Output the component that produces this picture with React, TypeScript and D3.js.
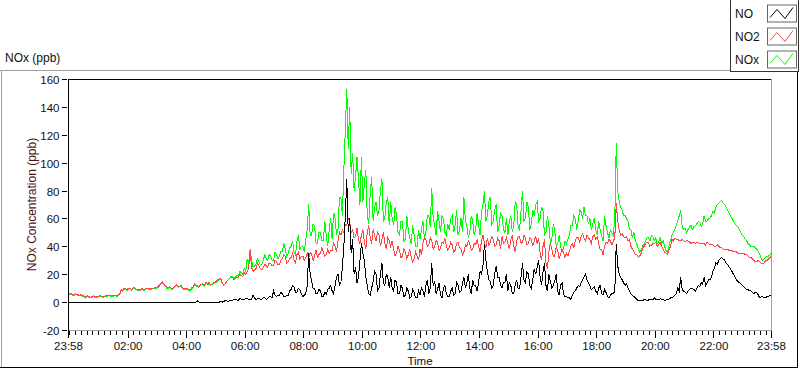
import * as d3 from 'd3';

// NOx monitor, one day from 23:58, one reading every 3 minutes (ppb); 20 readings per row = 1 hour
const stepMinutes = 3;

const noValues = [
  0, 0, 0, 0, 0, 0, 0, 0, 0, 0, 0, 0, 0, 0, 0, 0, 0, 0, 0, 0,
  0, 0, 0, 0, 0, 0, 0, 0, 0, 0, 0, 0, 0, 0, 0, 0, 0, 0, 0, 0,
  0, 0, 0, 0, 0, 0, 0, 0, 0, 0, 0, 0, 0, 0, 0, 0, 0, 0, 0, 0,
  0, 0, 0, 0, 0, 0, 0, 0, 0, 0, 0, 0, 0, 0, 0, 0, 0, 0, 0, 0,
  0, 0, 0, 0, 0, 0, 0, 0, 1, 0, 0, 0, 0, 0, 0, 0, 0, 0, 0, 0,
  0, 0, 0, 0, 0.5, 0, 0.5, 1, 1, 0.5, 1, 1.5, 1, 2, 2, 1.5, 1.5, 2.5, 2, 1.5,
  2, 2.5, 3, 2, 1.5, 2, 5, 3, 2, 2.5, 3, 2, 2, 3, 3, 2, 2.5, 4, 4, 3,
  8, 5, 4, 5, 5, 7, 6, 4, 4, 5, 5, 8, 9, 12, 11, 7, 7, 10, 9, 6,
  4, 5, 6, 12, 35, 20, 15, 10, 10, 6, 6, 9, 8, 4, 4, 7, 6, 9, 10, 12,
  8, 6, 12, 18, 20, 12, 14, 25, 40, 62, 88, 50, 60, 35, 45, 20, 25, 14, 18, 30,
  42, 35, 30, 18, 12, 6, 5, 10, 15, 22, 20, 8, 10, 20, 28, 14, 12, 20, 18, 10,
  18, 10, 8, 16, 14, 6, 6, 12, 10, 4, 5, 10, 8, 3, 4, 9, 7, 3, 3, 8,
  5, 10, 8, 4, 12, 16, 6, 10, 28, 12, 15, 6, 9, 14, 5, 3, 10, 12, 6, 4,
  4, 8, 10, 5, 6, 14, 12, 7, 8, 13, 18, 10, 14, 20, 10, 6, 16, 12, 12, 8,
  14, 22, 20, 26, 42, 30, 22, 16, 15, 10, 12, 20, 26, 18, 18, 12, 10, 14, 14, 20,
  8, 14, 12, 6, 6, 12, 16, 10, 10, 18, 28, 16, 14, 22, 20, 12, 10, 16, 24, 20,
  25, 30, 18, 12, 22, 28, 12, 8, 20, 15, 10, 12, 15, 20, 8, 5, 12, 14, 6, 4,
  4, 3, 3, 2, 5, 7, 8, 10, 12, 11, 14, 16, 18, 20, 16, 14, 12, 9, 10, 11,
  8, 6, 10, 12, 6, 5, 9, 7, 4, 3, 5, 6, 6, 8, 42, 26, 20, 18, 16, 14,
  12, 13, 10, 8, 6, 5, 4, 3, 2, 1, 1, 1.5, 1, 2, 2, 1, 1.5, 2, 2, 1.5,
  3, 2, 2, 1.5, 2.5, 2, 2, 1, 1.5, 2, 2, 3, 3, 4, 5, 6, 10, 8, 18, 9,
  8, 7, 6, 8, 9, 10, 10, 9, 8, 10, 12, 11, 14, 13, 18, 12, 14, 16, 16, 18,
  22, 24, 28, 27, 30, 31, 32, 31, 30, 28, 27, 25, 24, 22, 20, 18, 16, 15, 14, 13,
  12, 11, 10, 9, 9, 8, 8, 7, 6, 7, 7, 5, 3, 4, 4, 3, 3, 4, 4, 5,
  5,
];

const no2Values = [
  6, 6.5, 6, 5.5, 5.5, 6, 5.5, 5, 5, 5.5, 4.5, 4, 4, 4.5, 4, 3.5, 4, 4.5, 4, 4,
  4, 4.5, 4.5, 4, 4, 4.5, 4.5, 5, 5, 4.5, 4.5, 5, 5, 4.5, 5, 6, 9, 8, 10, 9.5,
  9, 10, 10, 9, 10, 10.5, 9.5, 9, 9, 8.5, 10, 9, 9, 10, 10, 9.5, 9.5, 10, 10, 10.5,
  10.5, 11, 12, 13.5, 14.5, 13, 12, 10.5, 10.5, 11, 10, 9.5, 11, 12, 12.5, 11, 11.5, 12, 10, 9.5,
  9.5, 10, 9, 8.5, 10, 11, 13, 12, 12, 11, 12.5, 13, 13, 12, 14.5, 13, 14, 12.5, 13, 14,
  14, 15, 16, 17, 17, 14, 12, 13, 15, 16, 17, 18, 18, 16, 17, 18, 18, 20, 19, 18,
  21, 20, 22, 24, 37, 25, 22, 23, 24, 28, 26, 24, 23, 25, 27, 26, 25, 28, 28, 26,
  26, 30, 29, 27, 27, 30, 31, 34, 33, 28, 29, 31, 32, 35, 30, 28, 34, 36, 31, 33,
  33, 30, 32, 35, 31, 36, 34, 30, 33, 37, 32, 34, 35, 39, 36, 33, 34, 38, 35, 37,
  37, 42, 40, 36, 44, 50, 48, 52, 50, 56, 55, 60, 58, 50, 52, 46, 47, 53, 45, 42,
  48, 52, 43, 38, 50, 55, 46, 42, 52, 48, 44, 50, 48, 40, 45, 50, 42, 38, 46, 44,
  40, 44, 38, 33, 35, 40, 37, 32, 33, 38, 36, 31, 34, 38, 32, 29, 31, 36, 33, 30,
  38, 34, 42, 46, 45, 40, 41, 46, 44, 38, 40, 44, 43, 37, 39, 43, 42, 46, 40, 37,
  39, 43, 41, 36, 37, 42, 43, 39, 38, 34, 36, 41, 40, 44, 42, 37, 38, 42, 41, 45,
  40, 36, 44, 48, 42, 39, 46, 41, 43, 47, 45, 40, 41, 46, 44, 38, 47, 42, 43, 46,
  42, 38, 45, 48, 40, 36, 44, 47, 47, 42, 43, 48, 46, 41, 42, 46, 45, 40, 44, 47,
  42, 46, 35, 30, 40, 45, 28, 24, 36, 42, 38, 33, 33, 40, 37, 31, 34, 38, 36, 32,
  35, 33, 37, 40, 42, 39, 44, 46, 46, 43, 47, 49, 46, 44, 48, 46, 45, 42, 47, 48,
  45, 47, 42, 38, 38, 34, 40, 43, 42, 45, 44, 41, 44, 46, 71, 58, 52, 48, 49, 47,
  46, 47, 44, 45, 40, 38, 36, 34, 34, 32, 33, 35, 38, 40, 42, 43, 43, 40, 41, 42,
  42, 43, 40, 41, 43, 40, 38, 36, 35, 34, 37, 40, 45, 44, 46, 45, 45, 44, 44, 45,
  44, 43, 44, 44, 43, 42, 43, 43, 42, 43, 43, 42, 42, 42, 42, 41, 43, 42, 41, 41,
  41, 40, 40, 41, 40, 39, 39, 38, 38, 38, 38, 37, 37, 37, 36, 36, 36, 35, 35, 35,
  35, 35, 34, 34, 33, 32, 32, 31, 30, 29, 29, 30, 29, 28, 28, 28, 30, 30, 31, 32,
  33,
];

const noxValues = [
  5.5, 6, 5.5, 5, 5, 5.5, 5, 4.5, 4.5, 5, 4, 3.5, 3.5, 4, 3.5, 3, 3.5, 4, 3.5, 3.5,
  3.5, 4, 4, 3.5, 3.5, 4, 4, 4.5, 4.5, 4, 4, 4.5, 4.5, 4, 4.5, 5.5, 8.5, 7.5, 9.5, 9,
  8.5, 9.5, 9.5, 8.5, 9.5, 10, 9, 8.5, 8.5, 8, 9.5, 8.5, 8.5, 9.5, 9.5, 9, 9, 9.5, 9.5, 10,
  10, 10.5, 11.5, 13, 14, 12.5, 11.5, 10, 10, 10.5, 9.5, 9, 10.5, 11.5, 12, 10.5, 11, 11.5, 9.5, 9,
  9, 9.5, 8.5, 8, 9.5, 10.5, 12.5, 11.5, 11.5, 10.5, 12, 12.5, 12.5, 11.5, 14, 12.5, 13.5, 12, 12.5, 13.5,
  13.5, 14.5, 15.5, 16.5, 16.5, 13.5, 12, 13, 15, 16, 17, 18.5, 18.5, 17, 18, 19, 19, 22, 21, 20,
  24, 22, 31, 27, 38, 30, 25, 26, 27, 31, 29, 27, 27, 30, 34, 31, 30, 34, 33, 30,
  30, 36, 34, 31, 33, 36, 36, 42, 38, 33, 35, 39, 40, 44, 36, 34, 44, 48, 38, 40,
  40, 36, 45, 52, 70, 48, 48, 56, 55, 42, 42, 50, 50, 44, 44, 58, 48, 40, 52, 60,
  45, 64, 60, 48, 52, 75, 75, 62, 95, 123, 153, 110, 140, 92, 107, 80, 90, 104, 88, 70,
  104, 72, 85, 95, 62, 56, 78, 90, 58, 68, 72, 62, 66, 80, 88, 58, 60, 72, 75, 55,
  72, 60, 55, 68, 62, 50, 48, 58, 58, 44, 45, 62, 52, 46, 42, 55, 48, 40, 40, 52,
  45, 52, 58, 46, 50, 62, 62, 54, 82, 60, 55, 48, 65, 58, 50, 62, 60, 50, 48, 56,
  52, 60, 62, 50, 55, 66, 48, 52, 60, 50, 75, 58, 55, 46, 50, 62, 58, 48, 52, 64,
  55, 48, 65, 70, 80, 58, 62, 72, 75, 56, 58, 66, 70, 50, 55, 64, 62, 52, 50, 60,
  48, 58, 62, 50, 55, 72, 70, 54, 52, 66, 80, 58, 60, 72, 68, 52, 56, 66, 62, 70,
  72, 58, 60, 68, 65, 48, 50, 62, 55, 42, 45, 56, 52, 40, 42, 48, 40, 36, 38, 44,
  42, 45, 48, 55, 55, 62, 60, 52, 58, 66, 65, 60, 68, 62, 62, 56, 60, 52, 56, 60,
  52, 48, 58, 52, 48, 44, 62, 55, 50, 46, 52, 50, 48, 60, 114, 80, 72, 68, 66, 62,
  62, 60, 58, 52, 52, 46, 50, 44, 42, 38, 36, 37, 40, 42, 44, 46, 46, 44, 48, 47,
  44, 46, 42, 43, 46, 42, 44, 40, 37, 36, 40, 44, 48, 50, 52, 55, 58, 62, 66, 54,
  52, 53, 50, 52, 54, 55, 52, 54, 55, 56, 58, 57, 54, 56, 62, 58, 58, 60, 60, 62,
  65, 64, 68, 70, 71, 72, 73, 71, 70, 68, 66, 64, 62, 60, 58, 56, 55, 54, 52, 50,
  48, 47, 45, 44, 42, 41, 40, 40, 40, 39, 38, 36, 34, 31, 30, 31, 32, 33, 33, 34,
  36,
];

const seriesNames = ['NO', 'NO2', 'NOx'];
const seriesColors = ['#000000', '#ff4545', '#00ff00'];

const yTicks = [-20, 0, 20, 40, 60, 80, 100, 120, 140, 160];
const xTickLabels = ['23:58', '02:00', '04:00', '06:00', '08:00', '10:00', '12:00', '14:00', '16:00', '18:00', '20:00', '22:00', '23:58'];

const font = 'Liberation Sans, Arial, sans-serif';

// minutes since the start (23:58 of the previous day)
function labelToMinutes(label: string, i: number) {
  if (i === xTickLabels.length - 1) return 1440;
  const [h, m] = label.split(':').map(Number);
  return (h * 60 + m + 2) % 1440;
}

export default function App() {
  const width = 800;
  const height = 369;
  const left = 68, right = 772, top = 79, bottom = 330;

  const x = d3.scaleLinear().domain([0, 1440]).range([left + 0.5, right - 0.5]);
  const y = d3.scaleLinear().domain([-20, 160]).range([bottom, top]);

  const line = d3.line<number>()
    .x((_, i) => x(i * stepMinutes))
    .y((d) => y(d));

  const majorMinutes = xTickLabels.map(labelToMinutes);
  const minorMinutes = d3.range(2, 1440, 12).filter((m) => !majorMinutes.includes(m));

  // draw order: NOx under NO2 under NO
  const drawOrder = [
    { values: noxValues, color: seriesColors[2] },
    { values: no2Values, color: seriesColors[1] },
    { values: noValues, color: seriesColors[0] },
  ];

  const legendRows = [10, 33, 56];

  return (
    <svg width={width} height={height} style={{ position: 'absolute', left: 0, top: 0, background: '#fff' }} fontFamily={font}>
      <rect x={0} y={0} width={width} height={height} fill="#fff" />

      {/* outer frame */}
      <line x1={0} x2={730} y1={70.5} y2={70.5} stroke="#a0a0a0" />
      <line x1={1.5} x2={1.5} y1={70} y2={368} stroke="#a0a0a0" />
      <line x1={0} x2={798} y1={367.5} y2={367.5} stroke="#000" />
      <line x1={797.5} x2={797.5} y1={0} y2={368} stroke="#000" />

      <text x={5} y={62} fontSize={12} fill="#111">NOx (ppb)</text>

      {/* plot area */}
      <defs>
        <clipPath id="plotClip">
          <rect x={left + 1} y={top + 1} width={right - left - 1} height={bottom - top - 1} />
        </clipPath>
      </defs>
      <rect x={left} y={top} width={right - left} height={bottom - top} fill="#fff" />

      <g clipPath="url(#plotClip)">
        {drawOrder.map((s, k) => (
          <path key={k} d={line(s.values) || ''} fill="none" stroke={s.color} strokeWidth={1} shapeRendering="crispEdges" />
        ))}
      </g>

      <line x1={left} x2={right} y1={top + 0.5} y2={top + 0.5} stroke="#000" />
      <line x1={right - 0.5} x2={right - 0.5} y1={top} y2={bottom + 0.5} stroke="#a0a0a0" />
      <line x1={left} x2={right} y1={bottom + 0.5} y2={bottom + 0.5} stroke="#a0a0a0" />
      <line x1={left + 0.5} x2={left + 0.5} y1={top} y2={bottom + 7} stroke="#000" />

      {/* y axis */}
      {yTicks.map((t) => (
        <g key={t}>
          <line x1={62} x2={67} y1={Math.round(y(t)) + 0.5} y2={Math.round(y(t)) + 0.5} stroke="#000" />
          <text x={59.5} y={Math.round(y(t)) + 4.5} fontSize={11.5} textAnchor="end" fill="#111">{t}</text>
        </g>
      ))}
      <text transform={`translate(36,${(top + bottom) / 2}) rotate(-90)`} fontSize={12} textAnchor="middle" fill="#4a1414">
        NOx Concentration (ppb)
      </text>

      {/* x axis */}
      {minorMinutes.map((m) => (
        <line key={m} x1={Math.floor(x(m)) + 0.5} x2={Math.floor(x(m)) + 0.5} y1={331} y2={335} stroke="#000" />
      ))}
      {majorMinutes.map((m, i) => (
        <g key={i}>
          <line x1={Math.floor(x(m)) + 0.5} x2={Math.floor(x(m)) + 0.5} y1={331} y2={338} stroke="#000" />
          <text x={x(m)} y={350} fontSize={11.5} textAnchor="middle" fill="#111">{xTickLabels[i]}</text>
        </g>
      ))}
      <text x={(left + right) / 2} y={365} fontSize={11.5} textAnchor="middle" fill="#111">Time</text>

      {/* legend */}
      <rect x={730.5} y={-1} width={68} height={72.5} fill="#fff" stroke="#333" />
      {seriesNames.map((name, i) => {
        const ry = legendRows[i];
        const bx = 767, bw = 29, by = ry - 5.5, bh = 17;
        const zig = d3.line()([
          [bx + 3, by + bh - 4],
          [bx + 10, by + 5],
          [bx + 18, by + bh - 3],
          [bx + bw - 3, by + 3],
        ]);
        return (
          <g key={name}>
            <text x={735} y={ry + 7.5} fontSize={12} fill="#111">{name}</text>
            <rect x={bx + 0.5} y={by + 0.5} width={bw} height={bh} fill="#fff" stroke="#666" />
            <path d={zig || ''} fill="none" stroke={seriesColors[i]} strokeWidth={1} />
          </g>
        );
      })}
    </svg>
  );
}
